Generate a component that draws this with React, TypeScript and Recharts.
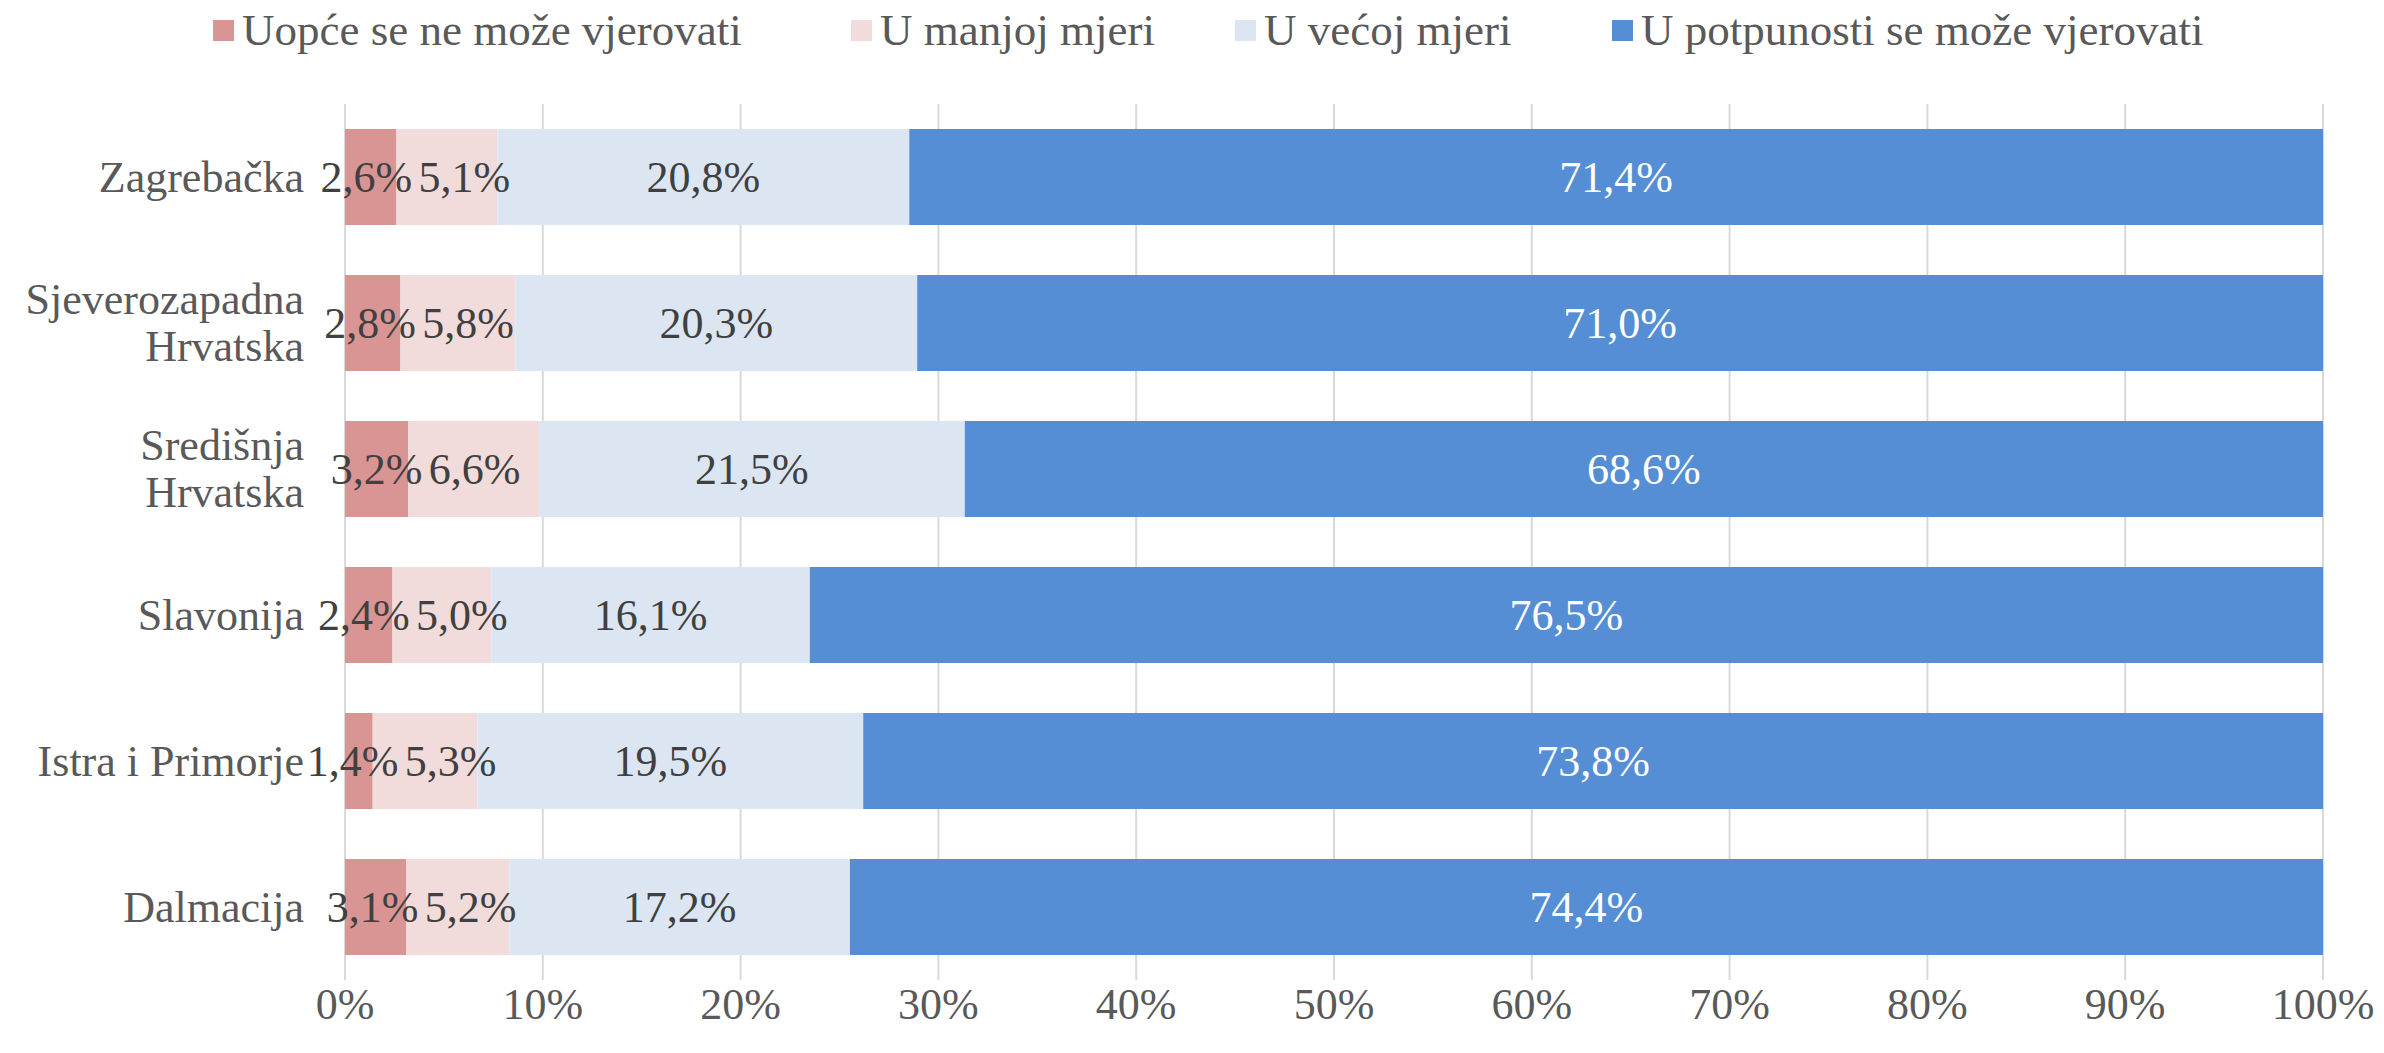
import React from 'react';
import {
  BarChart,
  Bar,
  XAxis,
  YAxis,
  CartesianGrid,
  Legend,
  LabelList,
} from 'recharts';

const regions = [
  'Zagrebačka',
  'Sjeverozapadna\nHrvatska',
  'Središnja\nHrvatska',
  'Slavonija',
  'Istra i Primorje',
  'Dalmacija',
];
const uopce = [2.6, 2.8, 3.2, 2.4, 1.4, 3.1];
const manjoj = [5.1, 5.8, 6.6, 5.0, 5.3, 5.2];
const vecoj = [20.8, 20.3, 21.5, 16.1, 19.5, 17.2];
const potpuno = [71.4, 71.0, 68.6, 76.5, 73.8, 74.4];
const xTicks = [0, 0.1, 0.2, 0.3, 0.4, 0.5, 0.6, 0.7, 0.8, 0.9, 1];

const series = [
  { key: 'uopce', name: 'Uopće se ne može vjerovati', color: '#D99594', text: '#404040' },
  { key: 'manjoj', name: 'U manjoj mjeri', color: '#F2DCDB', text: '#404040' },
  { key: 'vecoj', name: 'U većoj mjeri', color: '#DCE6F2', text: '#404040' },
  { key: 'potpuno', name: 'U potpunosti se može vjerovati', color: '#558ED5', text: '#FFFFFF' },
];

const data = regions.map((region, i) => ({
  region,
  uopce: uopce[i],
  manjoj: manjoj[i],
  vecoj: vecoj[i],
  potpuno: potpuno[i],
}));

const FONT = '"Liberation Serif", serif';
const FS = 44;
const legendLeft = [205, 843, 1227, 1604];

const fmt = (v: number) => v.toFixed(1).replace('.', ',') + '%';
const textW = (s: string) => s.length * 0.5 * FS;

// Excel nudges the two small labels apart when they would collide
function nudge(i: number, seg: 'first' | 'second', x: number, w: number) {
  let c1: number, c2: number, w1: number, w2: number;
  if (seg === 'first') {
    w1 = w;
    w2 = (w * manjoj[i]) / uopce[i];
    c1 = x + w1 / 2;
    c2 = x + w1 + w2 / 2;
  } else {
    w2 = w;
    w1 = (w * uopce[i]) / manjoj[i];
    c1 = x - w1 / 2;
    c2 = x + w2 / 2;
  }
  const overlap = c1 + textW(fmt(uopce[i])) / 2 + 10 - (c2 - textW(fmt(manjoj[i])) / 2);
  if (overlap > 0) {
    c1 -= overlap * 0.2;
    c2 += overlap * 0.8;
  }
  return seg === 'first' ? c1 : c2;
}

function makeLabel(key: string, fill: string) {
  return (props: any) => {
    const vb = props.viewBox || props;
    const x = Number(vb.x);
    const y = Number(vb.y);
    const w = Number(vb.width);
    const h = Number(vb.height);
    const i = Number(props.index);
    let cx = x + w / 2;
    if (key === 'uopce') cx = nudge(i, 'first', x, w);
    if (key === 'manjoj') cx = nudge(i, 'second', x, w);
    return (
      <text
        x={cx}
        y={y + h / 2}
        textAnchor="middle"
        dominantBaseline="central"
        fontFamily={FONT}
        fontSize={FS}
        fill={fill}
      >
        {fmt(Number(props.value))}
      </text>
    );
  };
}

function RegionTick({ x, y, payload }: any) {
  const lines = String(payload.value).split('\n');
  const step = 47;
  const start = -((lines.length - 1) * step) / 2;
  return (
    <text x={x} y={y} textAnchor="end" fontFamily={FONT} fontSize={FS} fill="#595959">
      {lines.map((l, i) => (
        <tspan key={i} x={x} y={y + start + i * step} dominantBaseline="central">
          {l}
        </tspan>
      ))}
    </text>
  );
}

function TopLegend() {
  return (
    <div style={{ position: 'relative', width: 2368, height: 50, fontFamily: FONT }}>
      {series.map((s, i) => (
        <div
          key={s.key}
          style={{
            position: 'absolute',
            left: legendLeft[i],
            top: 0,
            height: 44,
            display: 'flex',
            alignItems: 'center',
            whiteSpace: 'nowrap',
          }}
        >
          <span style={{ width: 21, height: 21, background: s.color, marginRight: 8, display: 'inline-block' }} />
          <span style={{ fontSize: 45, color: '#595959', lineHeight: '44px' }}>{s.name}</span>
        </div>
      ))}
    </div>
  );
}

export default function App() {
  return (
    <BarChart
      width={2368}
      height={1040}
      data={data}
      layout="vertical"
      stackOffset="expand"
      barSize={96}
      margin={{ top: 96, right: 53, left: 0, bottom: 8 }}
    >
      <CartesianGrid horizontal={false} stroke="#D9D9D9" strokeWidth={2} />
      <XAxis
        type="number"
        domain={[0, 1]}
        ticks={xTicks}
        tickFormatter={(v: number) => Math.round(v * 100) + '%'}
        axisLine={false}
        tickLine={false}
        tickSize={0}
        tickMargin={8}
        height={60}
        tick={{ fontFamily: FONT, fontSize: FS, fill: '#595959' }}
      />
      <YAxis
        type="category"
        dataKey="region"
        width={337}
        axisLine={false}
        tickLine={false}
        tickSize={0}
        tickMargin={41}
        tick={<RegionTick />}
      />
      <Legend
        layout="horizontal"
        verticalAlign="middle"
        wrapperStyle={{ top: 0, left: 0, width: 2368, height: 50 }}
        content={() => <TopLegend />}
      />
      {series.map((s) => (
        <Bar key={s.key} dataKey={s.key} name={s.name} stackId="a" fill={s.color} isAnimationActive={false}>
          <LabelList dataKey={s.key} content={makeLabel(s.key, s.text)} />
        </Bar>
      ))}
    </BarChart>
  );
}
